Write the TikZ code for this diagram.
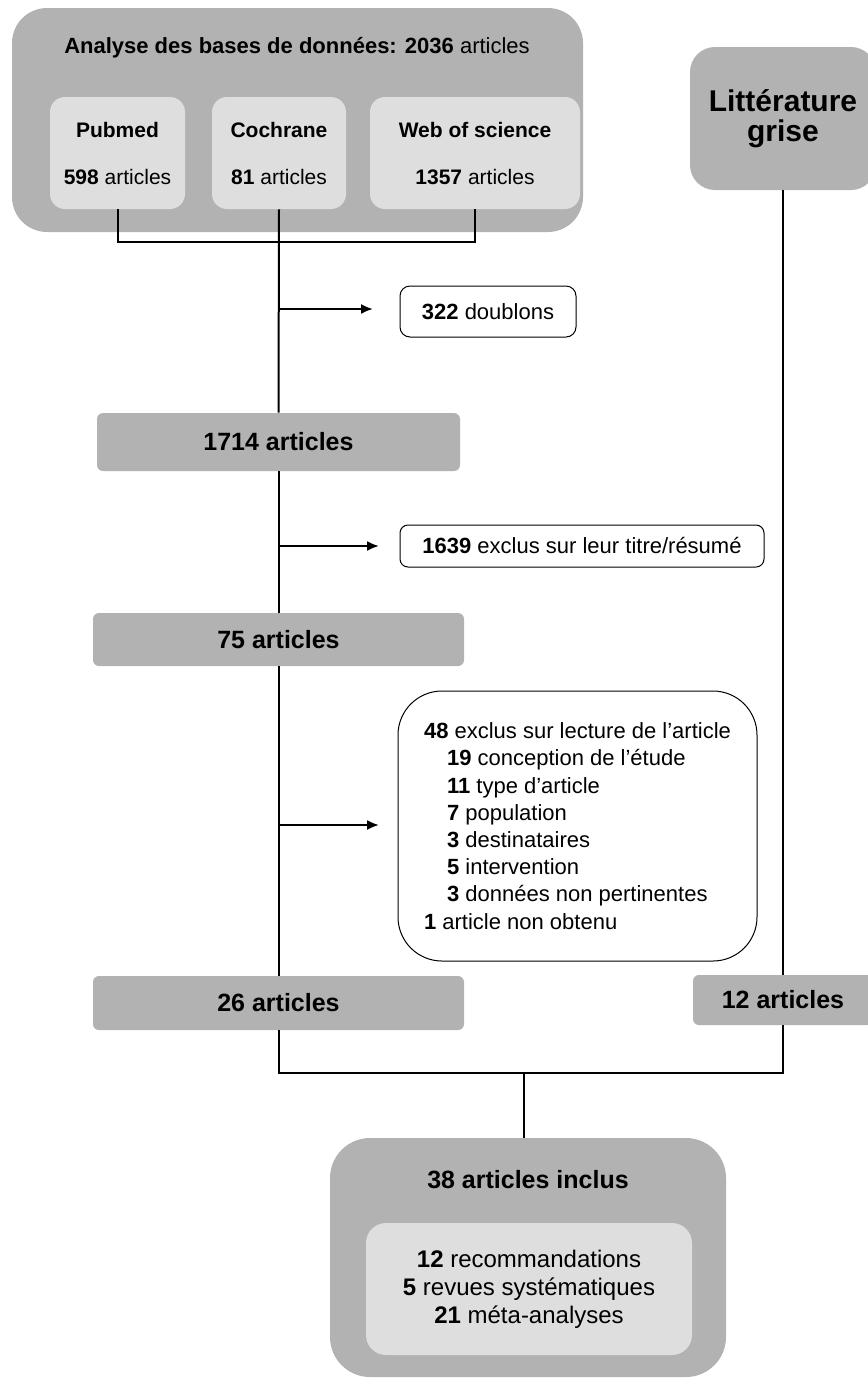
\documentclass[tikz,border=0pt]{standalone}
\usepackage{fontspec}
\setmainfont{Liberation Sans}
\usepackage{tikz}
\usetikzlibrary{arrows.meta}
\newcommand{\boxColorD}{black!30}
\newcommand{\boxColorL}{black!13}
\tikzset{
    darkbox/.style = {fill=\boxColorD, inner sep=0pt, rounded corners=#1},
    darkbox/.default = 3pt,
    lightbox/.style = {fill=\boxColorL, inner sep=0pt, rounded corners=#1},
    lightbox/.default = 7.5pt,
    whitebox/.style = {draw=black, line width=0.5pt, fill=white, inner sep=0pt, rounded corners=#1},
    whitebox/.default = 5pt,
    link/.style = {line width=1pt},
    excl/.style = {line width=1pt, -{Latex[length=6pt,width=5pt]}},
    countbox/.style = {darkbox, font=\fontsize{12.5}{15}\selectfont\bfseries},
    basebox/.style = {lightbox, align=center, font=\fontsize{10.5}{12}\selectfont}
}
\begin{document}
\begin{tikzpicture}[x=0.5pt, y=-0.5pt]
    \useasboundingbox (0,0) rectangle (868,1378);
    % databases
    \node[darkbox=17.5pt, minimum width=285.5pt, minimum height=112pt] (bases) at (297.5,120) {};
    \node[font=\fontsize{11}{13}\selectfont] (basesTitle) at (297,48) {\textbf{Analyse des bases de données: 2036} articles};
    \node[basebox, minimum width=67.5pt, minimum height=56pt] (pubmed) at (117.5,153) {\textbf{Pubmed}\\[11.5pt]\textbf{598} articles};
    \node[basebox, minimum width=67pt, minimum height=56pt] (cochrane) at (279,153) {\textbf{Cochrane}\\[11.5pt]\textbf{81} articles};
    \node[basebox, minimum width=105pt, minimum height=56pt] (wos) at (475,153) {\textbf{Web of science}\\[11.5pt]\textbf{1357} articles};
    \node[darkbox=12.5pt, minimum width=93pt, minimum height=71.5pt, align=center,
          font=\fontsize{15}{15}\selectfont\bfseries] (grise) at (783,118.5) {Littérature\\grise};

    % counts
    \node[countbox, minimum width=181.5pt, minimum height=29pt] (n1714) at (278.5,442) {1714 articles};
    \node[countbox, minimum width=185.5pt, minimum height=26.5pt] (n75) at (278.5,639.5) {75 articles};
    \node[countbox, minimum width=185.5pt, minimum height=27pt] (n26) at (278.5,1003) {26 articles};
    \node[countbox, minimum width=90pt, minimum height=25pt] (n12) at (783,1000) {12 articles};

    % exclusions
    \node[whitebox, minimum width=88pt, minimum height=25.5pt, font=\fontsize{11}{13}\selectfont] (doublons) at (488,311.5) {\textbf{322} doublons};
    \node[whitebox=4pt, minimum width=182pt, minimum height=21pt, font=\fontsize{11}{13}\selectfont] (titre) at (582,546) {\textbf{1639} exclus sur leur titre/résumé};
    \node[whitebox=22pt, minimum width=179.5pt, minimum height=135pt, align=left, font=\fontsize{11}{13.6}\selectfont] (lecture) at (577.5,826) {\textbf{48} exclus sur lecture de l'article\\
        \hspace*{11.5pt}\textbf{19} conception de l'étude\\
        \hspace*{11.5pt}\textbf{11} type d'article\\
        \hspace*{11.5pt}\textbf{7} population\\
        \hspace*{11.5pt}\textbf{3} destinataires\\
        \hspace*{11.5pt}\textbf{5} intervention\\
        \hspace*{11.5pt}\textbf{3} données non pertinentes\\
        \textbf{1} article non obtenu};

    % included
    \node[darkbox=20pt, minimum width=198pt, minimum height=119.5pt] (inclus) at (528,1257.5) {};
    \node[font=\fontsize{12.5}{15}\selectfont\bfseries] (inclusTitle) at (528,1180) {38 articles inclus};
    \node[lightbox=10pt, minimum width=163pt, minimum height=66pt, align=center,
          font=\fontsize{12}{14}\selectfont] (types) at (529,1289) {\textbf{12} recommandations\\\textbf{5} revues systématiques\\\textbf{21} méta-analyses};

    \coordinate (brJ) at (279,242);
    \coordinate (joinM) at (524,1073);
    \coordinate (a1) at (279,309);
    \coordinate (a1e) at (373,309);
    \coordinate (a2) at (279,546);
    \coordinate (a2e) at (379,546);
    \coordinate (a3) at (279,825);
    \coordinate (a3e) at (379,825);

    \draw[link] (pubmed.south) |- (brJ) -| (wos.south);
    \draw[link] (cochrane.south) -- (n1714.north);
    \draw[link] (n1714.south) -- (n75.north);
    \draw[link] (n75.south) -- (n26.north);
    \draw[link] (grise.south) -- (n12.north);
    \draw[link] (n26.south) |- (joinM) -| (n12.south);
    \draw[link] (joinM) -- (joinM |- inclus.north);

    \draw[excl] (a1) -- (a1e);
    \draw[excl] (a2) -- (a2e);
    \draw[excl] (a3) -- (a3e);
\end{tikzpicture}
\end{document}
